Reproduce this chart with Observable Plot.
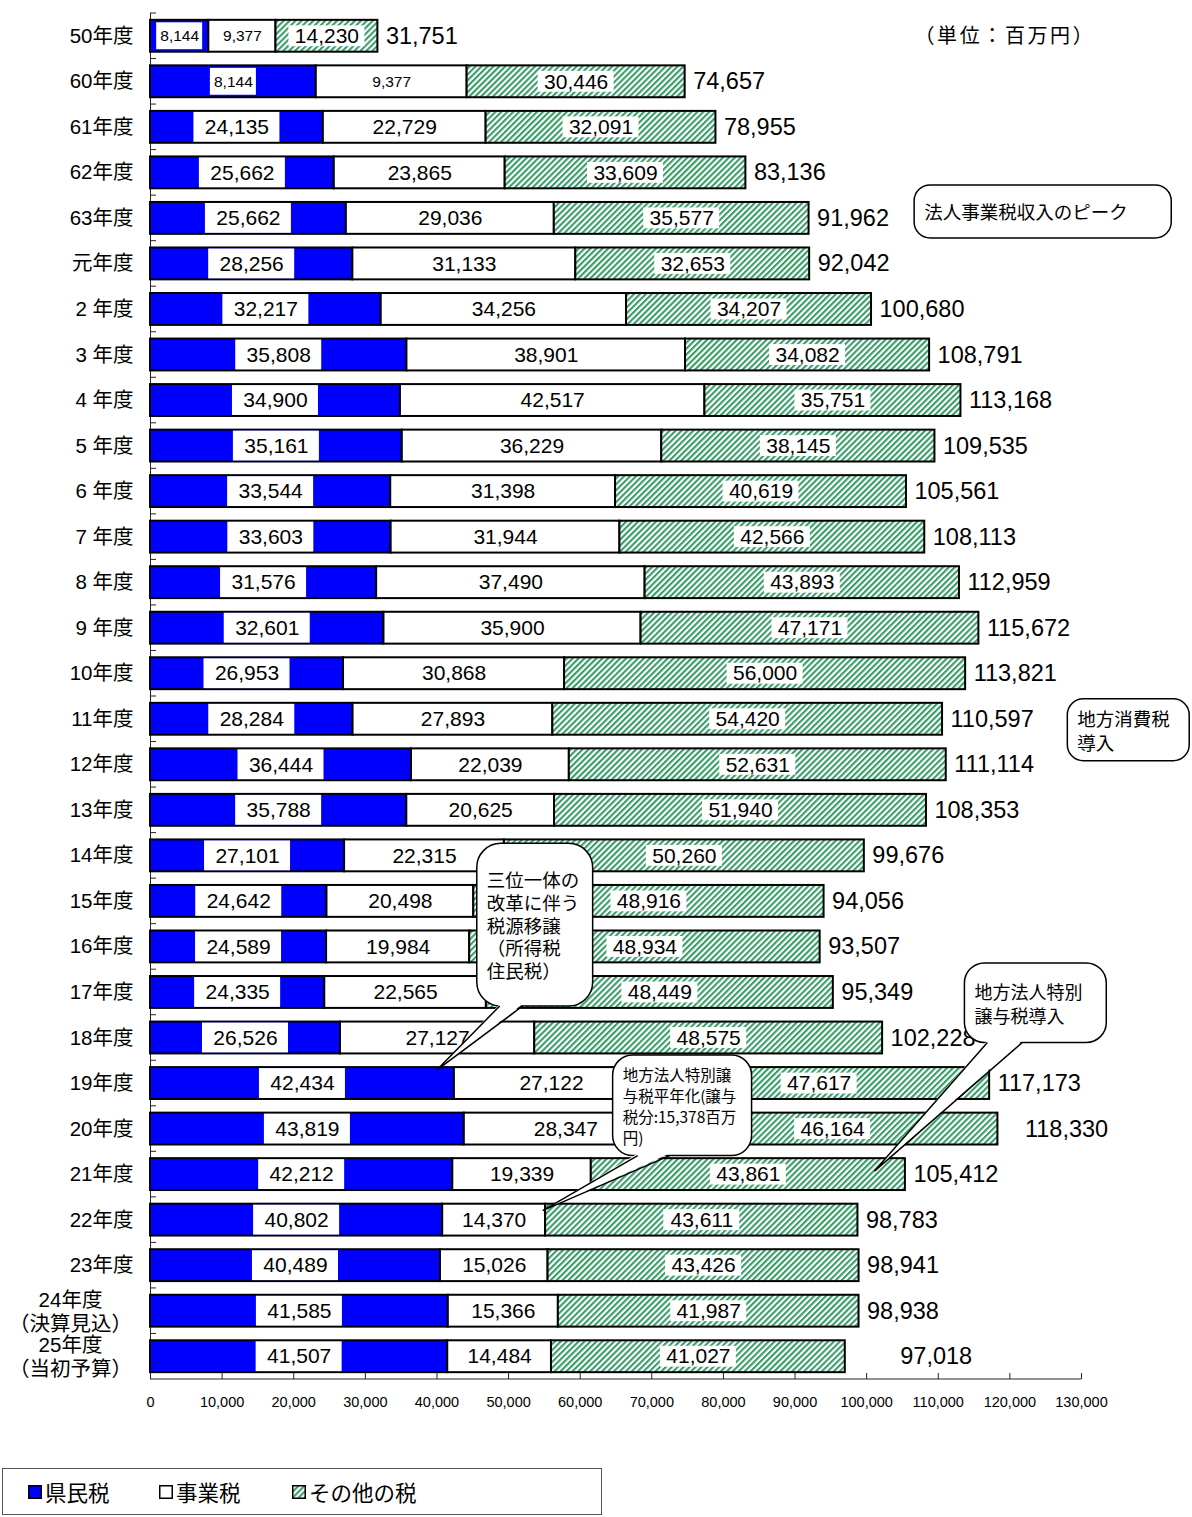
<!DOCTYPE html>
<html><head><meta charset="utf-8">
<script src="https://cdn.jsdelivr.net/npm/d3@7"></script>
<script src="https://cdn.jsdelivr.net/npm/@observablehq/plot@0.6"></script>
<style>
body{margin:0;background:#fff;font-family:"Liberation Sans","Noto Sans CJK JP",sans-serif;}
#chart{position:relative;width:1192px;height:1517px;background:#fff;}
#legend{position:absolute;left:2px;top:1468px;width:600px;height:47px;border:1px solid #555;box-sizing:border-box;}
.li{position:absolute;top:0;height:45px;display:flex;align-items:center;font-family:"Noto Sans CJK JP",sans-serif;font-size:21.5px;color:#000;}
.li svg{margin-right:3px;}
</style></head><body>
<svg width="0" height="0" style="position:absolute">
<defs><pattern id="hatch" patternUnits="userSpaceOnUse" width="4.2" height="4.2" patternTransform="rotate(45)">
<rect width="4.2" height="4.2" fill="#ffffff"/><rect width="2.1" height="4.2" fill="#3a9c68"/></pattern></defs></svg>
<div id="chart">
<div id="legend">
<div class="li" style="left:25px"><svg width="14" height="14"><rect x="0.75" y="0.75" width="12.5" height="12.5" fill="#0000ff" stroke="#000" stroke-width="1.5"/></svg>県民税</div>
<div class="li" style="left:156px"><svg width="14" height="14"><rect x="0.75" y="0.75" width="12.5" height="12.5" fill="#fff" stroke="#000" stroke-width="1.5"/></svg>事業税</div>
<div class="li" style="left:289px"><svg width="14" height="14"><rect x="0.75" y="0.75" width="12.5" height="12.5" fill="url(#hatch)" stroke="#000" stroke-width="1.5"/></svg>その他の税</div>
</div>
</div>
<script>
// ---- data ----
const categories = ["50年度","60年度","61年度","62年度","63年度","元年度","2 年度","3 年度","4 年度","5 年度","6 年度","7 年度","8 年度","9 年度","10年度","11年度","12年度","13年度","14年度","15年度","16年度","17年度","18年度","19年度","20年度","21年度","22年度","23年度","24年度","25年度"];
const categorySubLabels = ["","","","","","","","","","","","","","","","","","","","","","","","","","","","","（決算見込）","（当初予算）"];
const taxes = ["県民税","事業税","その他の税"];
// bar lengths (百万円)
const kenmin = [8144,23150,24135,25662,27349,28256,32217,35808,34900,35161,33544,33603,31576,32601,26953,28284,36444,35788,27101,24642,24589,24335,26526,42434,43819,42212,40802,40489,41585,41507];
const jigyo  = [9377,21061,22729,23865,29036,31133,34256,38901,42517,36229,31398,31944,37490,35900,30868,27893,22039,20625,22315,20498,19984,22565,27127,27122,28347,19339,14370,15026,15366,14484];
const other  = [14230,30446,32091,33609,35577,32653,34207,34082,35751,38145,40619,42566,43893,47171,56000,54420,52631,51940,50260,48916,48934,48449,48575,47617,46164,43861,43611,43426,41987,41027];
const totals = [31751,74657,78955,83136,91962,92042,100680,108791,113168,109535,105561,108113,112959,115672,113821,110597,111114,108353,99676,94056,93507,95349,102228,117173,118330,105412,98783,98941,98938,97018];
// printed labels (as shown on the chart)
const kenminLabels = [8144,8144,24135,25662,25662,28256,32217,35808,34900,35161,33544,33603,31576,32601,26953,28284,36444,35788,27101,24642,24589,24335,26526,42434,43819,42212,40802,40489,41585,41507];
const jigyoLabels  = [9377,9377,22729,23865,29036,31133,34256,38901,42517,36229,31398,31944,37490,35900,30868,27893,22039,20625,22315,20498,19984,22565,27127,27122,28347,19339,14370,15026,15366,14484];
const xTicks = [0,10000,20000,30000,40000,50000,60000,70000,80000,90000,100000,110000,120000,130000];
const unitLabel = "（単位：百万円）";

// ---- layout / style settings ----
const smallLabelRows = ["50年度","60年度"];
const totalLabelShift = {"20年度": 19, "25年度": 47};
const FONT = '"Liberation Sans","Noto Sans CJK JP",sans-serif';
const JFONT = '"Noto Sans CJK JP",sans-serif';
const annotations = [
  {lines:["法人事業税収入のピーク"], fs:18.5, lh:24, r:16, x0:106700, x1:142600, y0:["63年度",-33], y1:["63年度",20], side:"bottom", base:[112600,121670], tip:[66970,"4年度",-2]},
  {lines:["地方消費税","導入"], fs:18.5, lh:24, r:16, x0:128090, x1:145110, y0:["11年度",-20], y1:["11年度",42], side:"top", base:[131150,135340], tip:[126560,"9年度",18]},
  {lines:["三位一体の","改革に伴う","税源移譲","（所得税","住民税）"], fs:18.5, lh:22.8, r:24, x0:45630, x1:61810, y0:["14年度",-12], y1:["17年度",14], side:"bottom", base:[48835,52045], tip:[40045,"19年度",-13]},
  {lines:["地方法人特別","譲与税導入"], fs:18, lh:24, r:20, x0:113720, x1:133530, y0:["17年度",-29], y1:["18年度",5], side:"bottom", base:[116930,121810], tip:[101160,"21年度",-3]},
  {lines:["地方法人特別譲","与税平年化(譲与","税分:15,378百万","円)"], fs:15.5, lh:21, r:20, x0:64600, x1:84000, y0:["19年度",-28], y1:["20年度",27], side:"bottom", base:[68090,72555], tip:[54830,"22年度",-9]}
];

const fmt = d3.format(",");
const rows = categories.map((c, i) => {
  const k = kenmin[i], j = jigyo[i], o = other[i];
  return {cat: c, sub: categorySubLabels[i], k, j, o, total: totals[i], kL: kenminLabels[i], jL: jigyoLabels[i],
    kMid: k / 2, jMid: k + j / 2, oMid: k + j + o / 2, jEnd: k + j, oEnd: k + j + o,
    small: smallLabelRows.includes(c)};
});
const normal = rows.filter(r => !r.small);
const small = rows.filter(r => r.small);

const totalMarks = [Plot.text(rows.filter(r => !(r.cat in totalLabelShift)), {x: "oEnd", y: "cat", text: d => fmt(d.total), dx: 8, textAnchor: "start", fontSize: 23.5})];
for (const [c, s] of Object.entries(totalLabelShift)) {
  totalMarks.push(Plot.text(rows.filter(r => r.cat === c), {x: "oEnd", y: "cat", text: d => fmt(d.total), dx: 8 + s, textAnchor: "start", fontSize: 23.5}));
}

const W = 1192, H = 1420, MT = 13, MB = 41;
const frameH = H - MT - MB;

const plot = Plot.plot({
  width: W, height: H,
  marginLeft: 150, marginRight: 111, marginTop: MT, marginBottom: MB,
  style: {fontFamily: FONT, background: "white", color: "black", overflow: "visible"},
  x: {domain: [0, 130000], axis: null},
  y: {domain: categories, paddingInner: 0.3, paddingOuter: 0.15, round: false, axis: null},
  marks: [
    Plot.ruleX([0], {stroke: "#222", strokeWidth: 1}),
    Plot.barX(rows, {x1: 0, x2: "k", y: "cat", fill: "#0000ff", stroke: "black", strokeWidth: 2}),
    Plot.barX(rows, {x1: "k", x2: "jEnd", y: "cat", fill: "#ffffff", stroke: "black", strokeWidth: 2}),
    Plot.barX(rows, {x1: "jEnd", x2: "oEnd", y: "cat", fill: "url(#hatch)", stroke: "black", strokeWidth: 2}),
    // white label boxes
    Plot.barX(normal, {x1: "kMid", x2: "kMid", y: "cat", fill: "white", insetLeft: -43, insetRight: -43, insetTop: 1, insetBottom: 1}),
    Plot.barX(small, {x1: "kMid", x2: "kMid", y: "cat", fill: "white", insetLeft: -23, insetRight: -23, insetTop: 2.5, insetBottom: 2.5}),
    Plot.barX(rows, {x1: "oMid", x2: "oMid", y: "cat", fill: "white", insetLeft: -38, insetRight: -38, insetTop: 5.5, insetBottom: 5.5}),
    // segment labels
    Plot.text(normal, {x: "kMid", y: "cat", text: d => fmt(d.kL), fontSize: 21}),
    Plot.text(small, {x: "kMid", y: "cat", text: d => fmt(d.kL), fontSize: 15.5}),
    Plot.text(normal, {x: "jMid", y: "cat", text: d => fmt(d.jL), fontSize: 21}),
    Plot.text(small, {x: "jMid", y: "cat", text: d => fmt(d.jL), fontSize: 15.5}),
    Plot.text(rows, {x: "oMid", y: "cat", text: d => fmt(d.o), fontSize: 21}),
    ...totalMarks,
    // x axis
    Plot.ruleX(xTicks, {x: d => d, insetTop: frameH - 6, stroke: "#222"}),
    Plot.axisX(xTicks, {tickSize: 0, tickPadding: 17, tickFormat: d3.format(","), fontSize: 14.5, fontFamily: FONT}),
    // category labels
    Plot.text(rows.filter(r => !r.sub), {y: "cat", text: "cat", frameAnchor: "left", dx: -17, textAnchor: "end", fontSize: 20.5}),
    Plot.text(rows.filter(r => r.sub), {y: "cat", text: d => d.cat + "\n" + d.sub, frameAnchor: "left", dx: -80, textAnchor: "middle", fontSize: 20.5, lineHeight: 1.17}),
    Plot.text([unitLabel], {frameAnchor: "top-right", dx: -167, dy: 23, textAnchor: "start", lineAnchor: "middle", fontSize: 20, fontFamily: JFONT, className: "unit"})
  ]
});
document.getElementById("chart").prepend(plot);
d3.select(plot).selectAll(".unit text").style("letter-spacing", "2.6px");

const xs = plot.scale("x"), ys = plot.scale("y");
const X = v => xs.apply(v);
const bw = ys.bandwidth, stp = ys.step;
const Yc = (c, d = 0) => ys.apply(c) + bw / 2 + d;
const svg = d3.select(plot);
const g0 = svg.append("g");
// y band boundary ticks
categories.forEach(c => {
  const y = ys.apply(c) - (stp - bw) / 2;
  g0.append("line").attr("x1", X(0)).attr("x2", X(0) + 6).attr("y1", y).attr("y2", y).attr("stroke", "#222");
});
// bottom axis line
const yb = H - MB;
g0.append("line").attr("x1", X(0)).attr("x2", X(130000)).attr("y1", yb).attr("y2", yb).attr("stroke", "#222");

// callouts
for (const a of annotations) {
  const x0 = X(a.x0), x1 = X(a.x1), y0 = Yc(a.y0[0], a.y0[1]), y1 = Yc(a.y1[0], a.y1[1]);
  const g = svg.append("g");
  g.append("rect").attr("x", x0).attr("y", y0).attr("width", x1 - x0).attr("height", y1 - y0)
    .attr("rx", a.r).attr("fill", "white").attr("stroke", "black").attr("stroke-width", 1.5);
  const by = a.side === "bottom" ? y1 : y0;
  const inw = a.side === "bottom" ? -2 : 2;
  const b1 = X(a.base[0]), b2 = X(a.base[1]);
  const tx = X(a.tip[0]), ty = Yc(a.tip[1], a.tip[2]);
  g.append("path").attr("d", `M${b1},${by + inw}L${tx},${ty}L${b2},${by + inw}Z`).attr("fill", "white");
  g.append("path").attr("d", `M${b1},${by}L${tx},${ty}L${b2},${by}`).attr("fill", "none").attr("stroke", "black").attr("stroke-width", 1.5);
  const cy = (y0 + y1) / 2 - (a.lines.length - 1) * a.lh / 2;
  const t = g.append("text").attr("text-anchor", "start").attr("font-family", JFONT)
    .attr("font-size", a.fs).attr("fill", "black");
  a.lines.forEach((line, i) => {
    t.append("tspan").attr("x", x0 + 10).attr("y", cy + i * a.lh).attr("dominant-baseline", "central").text(line);
  });
}
</script>
</body></html>
